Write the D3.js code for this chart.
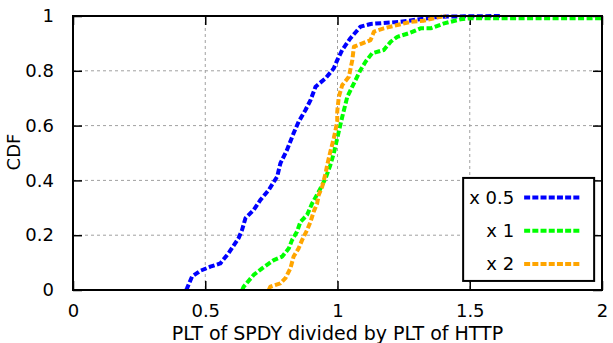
<!DOCTYPE html>
<html>
<head>
<meta charset="utf-8">
<script src="https://cdn.jsdelivr.net/npm/d3@7"></script>
<style>
  body { margin: 0; background: white; }
  text { font-family: 'DejaVu Sans', sans-serif; fill: black; }
</style>
</head>
<body>
<div id="chart"></div>
<script>
// CDF samples: [ratio, cdf]
const half = [
  [0.428, 0], [0.431, 0.006], [0.45, 0.049], [0.481, 0.07], [0.519, 0.085], [0.557, 0.097],
  [0.588, 0.134], [0.626, 0.189], [0.639, 0.219], [0.652, 0.262], [0.683, 0.292], [0.708, 0.328],
  [0.74, 0.365], [0.772, 0.414], [0.784, 0.462], [0.809, 0.511], [0.834, 0.572], [0.853, 0.614],
  [0.879, 0.657], [0.898, 0.693], [0.917, 0.742], [0.955, 0.773], [0.986, 0.809], [0.999, 0.839],
  [1.018, 0.876], [1.049, 0.919], [1.087, 0.961], [1.125, 0.971], [1.239, 0.979], [1.364, 0.995],
  [1.415, 0.998], [1.617, 1.0]
]
const one = [
  [0.64, 0], [0.645, 0.012], [0.683, 0.055], [0.715, 0.079], [0.759, 0.109], [0.791, 0.122],
  [0.816, 0.152], [0.828, 0.182], [0.847, 0.213], [0.86, 0.249], [0.885, 0.274], [0.904, 0.316],
  [0.936, 0.371], [0.955, 0.408], [0.973, 0.456], [0.986, 0.499], [0.999, 0.554], [1.018, 0.632],
  [1.037, 0.705], [1.062, 0.754], [1.087, 0.803], [1.106, 0.833], [1.131, 0.864], [1.175, 0.876],
  [1.201, 0.906], [1.226, 0.924], [1.27, 0.937], [1.314, 0.955], [1.352, 0.955], [1.403, 0.973],
  [1.466, 0.988], [1.504, 0.992], [2.0, 0.992]
]
const two = [
  [0.74, 0], [0.746, 0.012], [0.784, 0.024], [0.803, 0.043], [0.822, 0.079], [0.834, 0.122],
  [0.853, 0.152], [0.866, 0.182], [0.885, 0.219], [0.898, 0.249], [0.91, 0.286], [0.923, 0.316],
  [0.929, 0.347], [0.942, 0.377], [0.955, 0.426], [0.961, 0.456], [0.973, 0.505], [0.986, 0.554],
  [0.999, 0.614], [0.999, 0.651], [1.005, 0.705], [1.018, 0.748], [1.043, 0.778], [1.056, 0.839],
  [1.062, 0.888], [1.094, 0.9], [1.125, 0.912], [1.138, 0.943], [1.175, 0.955], [1.226, 0.967],
  [1.277, 0.979], [1.327, 0.983], [1.378, 0.995], [1.41, 1.0]
]
const seriesNames = ['x 0.5', 'x 1', 'x 2']
const seriesColors = ['#0000ff', '#00ff00', '#ffa500']
const xTicks = [0, 0.5, 1, 1.5, 2]
const yTicks = [0, 0.2, 0.4, 0.6, 0.8, 1]

const dimensions = {
  width: 613,
  height: 343,
  margin: { top: 16, right: 11, bottom: 53, left: 73 }
}
const innerW = dimensions.width - dimensions.margin.left - dimensions.margin.right
const innerH = dimensions.height - dimensions.margin.top - dimensions.margin.bottom

const svg = d3.select('#chart').append('svg')
  .attr('width', dimensions.width)
  .attr('height', dimensions.height)

const bounds = svg.append('g')
  .attr('transform', `translate(${dimensions.margin.left}, ${dimensions.margin.top})`)

const x = d3.scaleLinear().domain([0, 2]).range([0, innerW])
const y = d3.scaleLinear().domain([0, 1]).range([innerH, 0])

// grid
bounds.append('g').selectAll('line')
  .data(xTicks.filter(d => d > 0 && d < 2))
  .join('line')
  .attr('x1', d => x(d)).attr('x2', d => x(d))
  .attr('y1', 0).attr('y2', innerH)
  .attr('stroke', '#a0a0a0').attr('stroke-width', 1).attr('stroke-dasharray', '3,3')
bounds.append('g').selectAll('line')
  .data(yTicks.filter(d => d > 0 && d < 1))
  .join('line')
  .attr('x1', 0).attr('x2', innerW)
  .attr('y1', d => y(d)).attr('y2', d => y(d))
  .attr('stroke', '#a0a0a0').attr('stroke-width', 1).attr('stroke-dasharray', '3,3')

// axes with inward ticks
const tick = 9
const xAxis = bounds.append('g')
  .attr('transform', `translate(0, ${innerH})`)
  .call(d3.axisBottom(x).tickValues(xTicks).tickFormat(d3.format('')).tickSizeInner(-tick).tickSizeOuter(0))
xAxis.selectAll('text').attr('y', 27).attr('dy', 0)
bounds.append('g')
  .call(d3.axisTop(x).tickValues(xTicks).tickFormat('').tickSizeInner(-tick).tickSizeOuter(0))
bounds.append('g')
  .call(d3.axisLeft(y).tickValues(yTicks).tickFormat(d3.format('')).tickSizeInner(-tick).tickSizeOuter(0).tickPadding(19))
bounds.append('g')
  .attr('transform', `translate(${innerW}, 0)`)
  .call(d3.axisRight(y).tickValues(yTicks).tickFormat('').tickSizeInner(-tick).tickSizeOuter(0))

bounds.selectAll('.domain').remove()
bounds.selectAll('.tick line').attr('stroke', 'black').attr('stroke-width', 1.5)
bounds.selectAll('.tick text').style('font-size', '18px').attr('fill', 'black')

// curves
const line = d3.line().x(d => x(d[0])).y(d => y(d[1]))
const curves = bounds.append('g')
curves.selectAll('path')
  .data([half, one, two])
  .join('path')
  .attr('d', line)
  .attr('fill', 'none')
  .attr('stroke', (d, i) => seriesColors[i])
  .attr('stroke-width', 4)
  .attr('stroke-dasharray', '6,2.5')
  .attr('stroke-linejoin', 'round')

// legend
const legend = bounds.append('g')
  .attr('transform', `translate(${x(1.475)}, ${y(0.409)})`)
legend.append('rect')
  .attr('width', 131).attr('height', 103)
  .attr('fill', 'white').attr('stroke', 'black').attr('stroke-width', 2)
const rows = legend.selectAll('g.row')
  .data(seriesNames)
  .join('g')
  .attr('class', 'row')
  .attr('transform', (d, i) => `translate(0, ${19.5 + i * 33.3})`)
rows.append('text')
  .attr('x', 51).attr('dy', '0.35em')
  .attr('text-anchor', 'end')
  .style('font-size', '18px')
  .text(d => d)
rows.append('line')
  .attr('x1', 61).attr('x2', 118)
  .attr('stroke', (d, i) => seriesColors[i])
  .attr('stroke-width', 4)
  .attr('stroke-dasharray', '6,2.2')

// border
bounds.append('rect')
  .attr('width', innerW).attr('height', innerH)
  .attr('fill', 'none').attr('stroke', 'black').attr('stroke-width', 2)

// axis titles
svg.append('text')
  .attr('x', dimensions.margin.left + innerW / 2)
  .attr('y', 340)
  .attr('text-anchor', 'middle')
  .style('font-size', '19px')
  .text('PLT of SPDY divided by PLT of HTTP')
svg.append('text')
  .attr('transform', `translate(14, ${dimensions.margin.top + innerH / 2 - 1}) rotate(-90)`)
  .attr('dy', '0.35em')
  .attr('text-anchor', 'middle')
  .style('font-size', '18px')
  .text('CDF')
</script>
</body>
</html>
